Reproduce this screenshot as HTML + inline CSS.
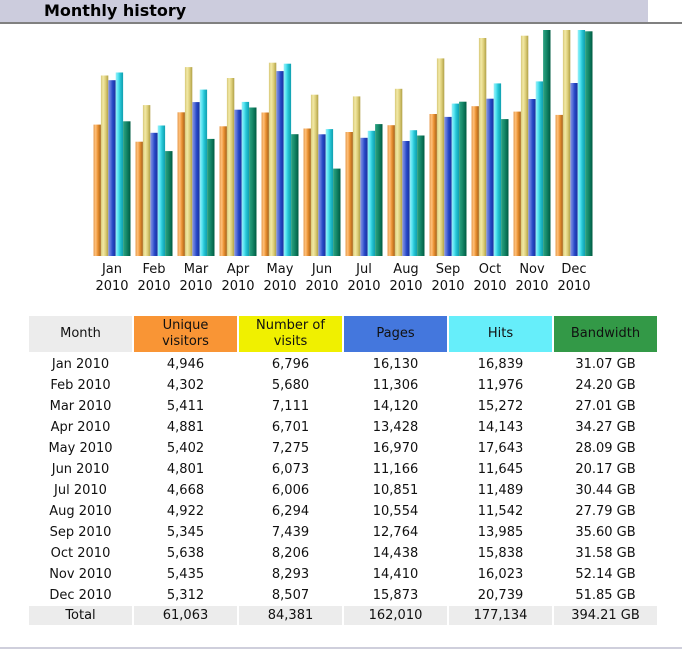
<!DOCTYPE html>
<html><head><meta charset="utf-8"><style>
*{margin:0;padding:0;box-sizing:border-box}
body{width:682px;height:656px;background:#fff;position:relative;overflow:hidden;font-family:"DejaVu Sans","Liberation Sans",sans-serif;font-size:13px;color:#111}
.a{position:absolute}
.ttl{left:0;top:0;width:648px;height:22px;background:#ccccdd}
.ttl span{position:absolute;left:44px;top:2px;font-weight:bold;font-size:16px;line-height:18px;color:#000}
.ln{left:0;top:22px;width:682px;height:2px;background:#808080}
.bl{left:0;top:647px;width:682px;height:2px;background:#cfcfdc}
.ml{width:42px;text-align:center;line-height:17px;top:260.5px}
.c{position:absolute;width:103px;text-align:center;height:19px;line-height:19px}
.h{position:absolute;top:316px;width:103px;height:36px;display:flex;align-items:center;justify-content:center;text-align:center;line-height:16px}
.t{background:#ececec}
</style></head><body>
<div class="a ttl"><span>Monthly history</span></div>
<div class="a ln"></div>
<svg class="a" style="left:0;top:0" width="682" height="656" xmlns="http://www.w3.org/2000/svg">
<defs>
<linearGradient id="gu" x1="0" x2="1" y1="0" y2="0"><stop offset="0" stop-color="#e59a4e"/><stop offset="0.3" stop-color="#ffbf78"/><stop offset="0.6" stop-color="#e98f30"/><stop offset="1" stop-color="#a4621a"/></linearGradient>
<linearGradient id="gv" x1="0" x2="1" y1="0" y2="0"><stop offset="0" stop-color="#d6c676"/><stop offset="0.3" stop-color="#f2e9a6"/><stop offset="0.6" stop-color="#e0d27e"/><stop offset="1" stop-color="#b0a046"/></linearGradient>
<linearGradient id="gp" x1="0" x2="1" y1="0" y2="0"><stop offset="0" stop-color="#8896e0"/><stop offset="0.3" stop-color="#5a72da"/><stop offset="0.6" stop-color="#2446c4"/><stop offset="1" stop-color="#1a309c"/></linearGradient>
<linearGradient id="gh" x1="0" x2="1" y1="0" y2="0"><stop offset="0" stop-color="#9aeef6"/><stop offset="0.3" stop-color="#5ce6f4"/><stop offset="0.6" stop-color="#24c4d4"/><stop offset="1" stop-color="#109eae"/></linearGradient>
<linearGradient id="gb" x1="0" x2="1" y1="0" y2="0"><stop offset="0" stop-color="#2ea282"/><stop offset="0.35" stop-color="#1a9070"/><stop offset="0.7" stop-color="#0a7458"/><stop offset="1" stop-color="#005a40"/></linearGradient>
</defs>
<g transform="translate(93.5,0)"><rect x="0" y="124.6" width="7.4" height="131.4" fill="url(#gu)"/><rect x="7.4" y="75.5" width="7.4" height="180.5" fill="url(#gv)"/><rect x="14.8" y="80.2" width="7.4" height="175.8" fill="url(#gp)"/><rect x="22.2" y="72.5" width="7.4" height="183.5" fill="url(#gh)"/><rect x="29.6" y="121.3" width="7.4" height="134.7" fill="url(#gb)"/></g>
<g transform="translate(135.5,0)"><rect x="0" y="141.7" width="7.4" height="114.3" fill="url(#gu)"/><rect x="7.4" y="105.1" width="7.4" height="150.9" fill="url(#gv)"/><rect x="14.8" y="132.8" width="7.4" height="123.2" fill="url(#gp)"/><rect x="22.2" y="125.5" width="7.4" height="130.5" fill="url(#gh)"/><rect x="29.6" y="151.1" width="7.4" height="104.9" fill="url(#gb)"/></g>
<g transform="translate(177.5,0)"><rect x="0" y="112.3" width="7.4" height="143.7" fill="url(#gu)"/><rect x="7.4" y="67.1" width="7.4" height="188.9" fill="url(#gv)"/><rect x="14.8" y="102.1" width="7.4" height="153.9" fill="url(#gp)"/><rect x="22.2" y="89.6" width="7.4" height="166.4" fill="url(#gh)"/><rect x="29.6" y="138.9" width="7.4" height="117.1" fill="url(#gb)"/></g>
<g transform="translate(219.5,0)"><rect x="0" y="126.3" width="7.4" height="129.7" fill="url(#gu)"/><rect x="7.4" y="78" width="7.4" height="178" fill="url(#gv)"/><rect x="14.8" y="109.7" width="7.4" height="146.3" fill="url(#gp)"/><rect x="22.2" y="101.9" width="7.4" height="154.1" fill="url(#gh)"/><rect x="29.6" y="107.5" width="7.4" height="148.5" fill="url(#gb)"/></g>
<g transform="translate(261.5,0)"><rect x="0" y="112.5" width="7.4" height="143.5" fill="url(#gu)"/><rect x="7.4" y="62.7" width="7.4" height="193.3" fill="url(#gv)"/><rect x="14.8" y="71.1" width="7.4" height="184.9" fill="url(#gp)"/><rect x="22.2" y="63.7" width="7.4" height="192.3" fill="url(#gh)"/><rect x="29.6" y="134.2" width="7.4" height="121.8" fill="url(#gb)"/></g>
<g transform="translate(303.5,0)"><rect x="0" y="128.5" width="7.4" height="127.5" fill="url(#gu)"/><rect x="7.4" y="94.7" width="7.4" height="161.3" fill="url(#gv)"/><rect x="14.8" y="134.3" width="7.4" height="121.7" fill="url(#gp)"/><rect x="22.2" y="129.1" width="7.4" height="126.9" fill="url(#gh)"/><rect x="29.6" y="168.6" width="7.4" height="87.4" fill="url(#gb)"/></g>
<g transform="translate(345.5,0)"><rect x="0" y="132" width="7.4" height="124" fill="url(#gu)"/><rect x="7.4" y="96.4" width="7.4" height="159.6" fill="url(#gv)"/><rect x="14.8" y="137.8" width="7.4" height="118.2" fill="url(#gp)"/><rect x="22.2" y="130.8" width="7.4" height="125.2" fill="url(#gh)"/><rect x="29.6" y="124.1" width="7.4" height="131.9" fill="url(#gb)"/></g>
<g transform="translate(387.5,0)"><rect x="0" y="125.2" width="7.4" height="130.8" fill="url(#gu)"/><rect x="7.4" y="88.8" width="7.4" height="167.2" fill="url(#gv)"/><rect x="14.8" y="141" width="7.4" height="115" fill="url(#gp)"/><rect x="22.2" y="130.2" width="7.4" height="125.8" fill="url(#gh)"/><rect x="29.6" y="135.5" width="7.4" height="120.5" fill="url(#gb)"/></g>
<g transform="translate(429.5,0)"><rect x="0" y="114" width="7.4" height="142" fill="url(#gu)"/><rect x="7.4" y="58.4" width="7.4" height="197.6" fill="url(#gv)"/><rect x="14.8" y="116.9" width="7.4" height="139.1" fill="url(#gp)"/><rect x="22.2" y="103.6" width="7.4" height="152.4" fill="url(#gh)"/><rect x="29.6" y="101.7" width="7.4" height="154.3" fill="url(#gb)"/></g>
<g transform="translate(471.5,0)"><rect x="0" y="106.2" width="7.4" height="149.8" fill="url(#gu)"/><rect x="7.4" y="38" width="7.4" height="218" fill="url(#gv)"/><rect x="14.8" y="98.7" width="7.4" height="157.3" fill="url(#gp)"/><rect x="22.2" y="83.4" width="7.4" height="172.6" fill="url(#gh)"/><rect x="29.6" y="119.1" width="7.4" height="136.9" fill="url(#gb)"/></g>
<g transform="translate(513.5,0)"><rect x="0" y="111.6" width="7.4" height="144.4" fill="url(#gu)"/><rect x="7.4" y="35.7" width="7.4" height="220.3" fill="url(#gv)"/><rect x="14.8" y="99" width="7.4" height="157" fill="url(#gp)"/><rect x="22.2" y="81.4" width="7.4" height="174.6" fill="url(#gh)"/><rect x="29.6" y="30" width="7.4" height="226" fill="url(#gb)"/></g>
<g transform="translate(555.5,0)"><rect x="0" y="114.9" width="7.4" height="141.1" fill="url(#gu)"/><rect x="7.4" y="30" width="7.4" height="226" fill="url(#gv)"/><rect x="14.8" y="83" width="7.4" height="173" fill="url(#gp)"/><rect x="22.2" y="30" width="7.4" height="226" fill="url(#gh)"/><rect x="29.6" y="31.3" width="7.4" height="224.7" fill="url(#gb)"/></g>
</svg>

<div class="a ml" style="left:91px">Jan<br>2010</div>
<div class="a ml" style="left:133px">Feb<br>2010</div>
<div class="a ml" style="left:175px">Mar<br>2010</div>
<div class="a ml" style="left:217px">Apr<br>2010</div>
<div class="a ml" style="left:259px">May<br>2010</div>
<div class="a ml" style="left:301px">Jun<br>2010</div>
<div class="a ml" style="left:343px">Jul<br>2010</div>
<div class="a ml" style="left:385px">Aug<br>2010</div>
<div class="a ml" style="left:427px">Sep<br>2010</div>
<div class="a ml" style="left:469px">Oct<br>2010</div>
<div class="a ml" style="left:511px">Nov<br>2010</div>
<div class="a ml" style="left:553px">Dec<br>2010</div>

<div class="h" style="left:29px;background:#ececec">Month</div>
<div class="h" style="left:134px;background:#f99535">Unique<br>visitors</div>
<div class="h" style="left:239px;background:#f0f000">Number of<br>visits</div>
<div class="h" style="left:344px;background:#4477dd">Pages</div>
<div class="h" style="left:449px;background:#66eefa">Hits</div>
<div class="h" style="left:554px;background:#339947">Bandwidth</div>

<div style="position:absolute;left:0;top:355px">
<div style="position:relative;height:21px"><div class="c" style="left:29px">Jan 2010</div><div class="c" style="left:134px">4,946</div><div class="c" style="left:239px">6,796</div><div class="c" style="left:344px">16,130</div><div class="c" style="left:449px">16,839</div><div class="c" style="left:554px">31.07 GB</div></div>
<div style="position:relative;height:21px"><div class="c" style="left:29px">Feb 2010</div><div class="c" style="left:134px">4,302</div><div class="c" style="left:239px">5,680</div><div class="c" style="left:344px">11,306</div><div class="c" style="left:449px">11,976</div><div class="c" style="left:554px">24.20 GB</div></div>
<div style="position:relative;height:21px"><div class="c" style="left:29px">Mar 2010</div><div class="c" style="left:134px">5,411</div><div class="c" style="left:239px">7,111</div><div class="c" style="left:344px">14,120</div><div class="c" style="left:449px">15,272</div><div class="c" style="left:554px">27.01 GB</div></div>
<div style="position:relative;height:21px"><div class="c" style="left:29px">Apr 2010</div><div class="c" style="left:134px">4,881</div><div class="c" style="left:239px">6,701</div><div class="c" style="left:344px">13,428</div><div class="c" style="left:449px">14,143</div><div class="c" style="left:554px">34.27 GB</div></div>
<div style="position:relative;height:21px"><div class="c" style="left:29px">May 2010</div><div class="c" style="left:134px">5,402</div><div class="c" style="left:239px">7,275</div><div class="c" style="left:344px">16,970</div><div class="c" style="left:449px">17,643</div><div class="c" style="left:554px">28.09 GB</div></div>
<div style="position:relative;height:21px"><div class="c" style="left:29px">Jun 2010</div><div class="c" style="left:134px">4,801</div><div class="c" style="left:239px">6,073</div><div class="c" style="left:344px">11,166</div><div class="c" style="left:449px">11,645</div><div class="c" style="left:554px">20.17 GB</div></div>
<div style="position:relative;height:21px"><div class="c" style="left:29px">Jul 2010</div><div class="c" style="left:134px">4,668</div><div class="c" style="left:239px">6,006</div><div class="c" style="left:344px">10,851</div><div class="c" style="left:449px">11,489</div><div class="c" style="left:554px">30.44 GB</div></div>
<div style="position:relative;height:21px"><div class="c" style="left:29px">Aug 2010</div><div class="c" style="left:134px">4,922</div><div class="c" style="left:239px">6,294</div><div class="c" style="left:344px">10,554</div><div class="c" style="left:449px">11,542</div><div class="c" style="left:554px">27.79 GB</div></div>
<div style="position:relative;height:21px"><div class="c" style="left:29px">Sep 2010</div><div class="c" style="left:134px">5,345</div><div class="c" style="left:239px">7,439</div><div class="c" style="left:344px">12,764</div><div class="c" style="left:449px">13,985</div><div class="c" style="left:554px">35.60 GB</div></div>
<div style="position:relative;height:21px"><div class="c" style="left:29px">Oct 2010</div><div class="c" style="left:134px">5,638</div><div class="c" style="left:239px">8,206</div><div class="c" style="left:344px">14,438</div><div class="c" style="left:449px">15,838</div><div class="c" style="left:554px">31.58 GB</div></div>
<div style="position:relative;height:21px"><div class="c" style="left:29px">Nov 2010</div><div class="c" style="left:134px">5,435</div><div class="c" style="left:239px">8,293</div><div class="c" style="left:344px">14,410</div><div class="c" style="left:449px">16,023</div><div class="c" style="left:554px">52.14 GB</div></div>
<div style="position:relative;height:21px"><div class="c" style="left:29px">Dec 2010</div><div class="c" style="left:134px">5,312</div><div class="c" style="left:239px">8,507</div><div class="c" style="left:344px">15,873</div><div class="c" style="left:449px">20,739</div><div class="c" style="left:554px">51.85 GB</div></div>
</div>
<div style="position:absolute;left:0;top:606px;width:682px;height:19px">
<div class="c t" style="left:29px;top:0">Total</div><div class="c t" style="left:134px;top:0">61,063</div><div class="c t" style="left:239px;top:0">84,381</div><div class="c t" style="left:344px;top:0">162,010</div><div class="c t" style="left:449px;top:0">177,134</div><div class="c t" style="left:554px;top:0">394.21 GB</div>
</div>
<div class="a bl"></div>
</body></html>
